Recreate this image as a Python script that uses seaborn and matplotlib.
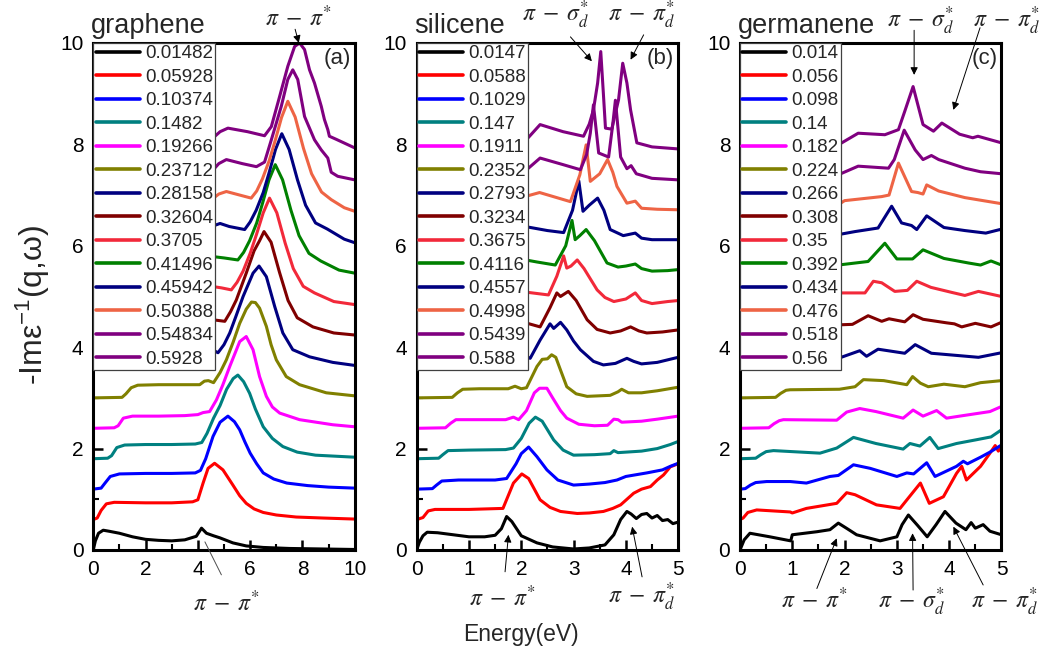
import matplotlib
matplotlib.use("Agg")
import numpy as np
import pandas as pd
import matplotlib.pyplot as plt
from matplotlib.ticker import MultipleLocator
import seaborn as sns

# ---------------- data ----------------
COLORS = ['#000000', '#FF0000', '#0000FF', '#008080', '#FF00FF', '#808000', '#000080',
          '#800000', '#F2293A', '#008000', '#000080', '#EE6445', '#800080', '#800080']
OFFSET_STEP = 0.6

GRAPHENE_Q = ['0.01482', '0.05928', '0.10374', '0.1482', '0.19266', '0.23712', '0.28158',
              '0.32604', '0.3705', '0.41496', '0.45942', '0.50388', '0.54834', '0.5928']
SILICENE_Q = ['0.0147', '0.0588', '0.1029', '0.147', '0.1911', '0.2352', '0.2793',
              '0.3234', '0.3675', '0.4116', '0.4557', '0.4998', '0.5439', '0.588']
GERMANENE_Q = ['0.014', '0.056', '0.098', '0.14', '0.182', '0.224', '0.266',
               '0.308', '0.35', '0.392', '0.434', '0.476', '0.518', '0.56']

# graphene curves: [energy, -Im eps^-1 relative to its offset]
gr0 = [[0, 0], [0.08, 0.18], [0.2, 0.33], [0.38, 0.39], [0.6, 0.37], [1.0, 0.33], [1.5, 0.26], [2.0, 0.21],
       [2.5, 0.19], [3.0, 0.18], [3.5, 0.2], [3.94, 0.27], [4.14, 0.43], [4.33, 0.33], [4.6, 0.28],
       [4.84, 0.24], [5.34, 0.14], [5.85, 0.08], [6.5, 0.05], [7.5, 0.03], [10, 0.01]]
gr1 = [[0, 0], [0.15, 0.03], [0.3, 0.18], [0.5, 0.31], [0.8, 0.34], [2, 0.33], [3, 0.33], [3.8, 0.35],
       [4.0, 0.39], [4.2, 0.72], [4.39, 1.01], [4.64, 1.11], [4.96, 0.98], [5.34, 0.68], [5.6, 0.47],
       [5.85, 0.32], [6.15, 0.21], [6.5, 0.14], [7, 0.09], [7.76, 0.05], [8.8, 0.03], [10, 0.01]]
gr2 = [[0, 0], [0.3, 0.02], [0.45, 0.12], [0.65, 0.25], [1, 0.30], [2, 0.31], [3, 0.31], [3.9, 0.32],
       [4.1, 0.37], [4.3, 0.6], [4.58, 1.04], [4.85, 1.32], [5.15, 1.44], [5.4, 1.33], [5.6, 1.17],
       [5.8, 0.93], [6.0, 0.71], [6.25, 0.5], [6.5, 0.32], [6.9, 0.2], [7.4, 0.12], [8.2, 0.07],
       [9, 0.04], [10, 0.02]]
gr3 = [[0, 0], [0.55, 0.01], [0.7, 0.06], [0.9, 0.22], [1.2, 0.27], [2, 0.28], [3, 0.28], [3.9, 0.29],
       [4.15, 0.32], [4.35, 0.5], [4.6, 0.8], [4.85, 1.05], [5.1, 1.37], [5.35, 1.58], [5.53, 1.65],
       [5.75, 1.52], [5.98, 1.29], [6.2, 0.98], [6.5, 0.63], [6.85, 0.4], [7.25, 0.24], [7.8, 0.13],
       [8.5, 0.07], [10, 0.03]]
gr4 = [[0, 0], [0.8, 0.01], [0.95, 0.05], [1.15, 0.2], [1.5, 0.24], [2.5, 0.24], [3.5, 0.25], [4.0, 0.27],
       [4.2, 0.31], [4.45, 0.33], [4.71, 0.56], [4.95, 0.85], [5.22, 1.22], [5.6, 1.71], [5.85, 1.81],
       [6.11, 1.55], [6.36, 1.02], [6.62, 0.63], [6.85, 0.42], [7.13, 0.3], [7.89, 0.17], [9.16, 0.07],
       [10, 0.03]]
gr5 = [[0, 0], [1.1, 0.01], [1.25, 0.08], [1.45, 0.2], [1.7, 0.25], [2.5, 0.26], [3.5, 0.26], [4.07, 0.26],
       [4.25, 0.33], [4.4, 0.34], [4.6, 0.3], [4.85, 0.5], [5.09, 0.75], [5.35, 1.1], [5.6, 1.47],
       [5.85, 1.75], [6.05, 1.89], [6.2, 1.88], [6.36, 1.77], [6.62, 1.41], [6.8, 1.05], [7.0, 0.75],
       [7.38, 0.42], [7.89, 0.26], [8.91, 0.10], [10, 0.04]]
gr6 = [[0, 0], [1.4, 0.01], [1.6, 0.1], [1.85, 0.25], [2.5, 0.3], [3.5, 0.33], [4.3, 0.36], [4.55, 0.35],
       [4.77, 0.29], [5.0, 0.45], [5.22, 0.68], [5.45, 1.0], [5.73, 1.40], [6.11, 1.86], [6.34, 2.0],
       [6.62, 1.79], [6.94, 1.2], [7.25, 0.68], [7.63, 0.35], [8.27, 0.21], [9.16, 0.10], [10, 0.04]]
gr7 = [[0, 0], [1.6, 0.01], [1.8, 0.1], [2.05, 0.25], [2.8, 0.3], [3.6, 0.33], [4.07, 0.37], [4.58, 0.34],
       [5.03, 0.31], [5.25, 0.5], [5.47, 0.73], [5.85, 1.26], [6.15, 1.7], [6.36, 1.9], [6.53, 2.08],
       [6.8, 1.87], [7.12, 1.28], [7.45, 0.72], [7.8, 0.38], [8.4, 0.2], [9.2, 0.08], [10, 0.04]]
gr8 = [[0, 0], [1.9, 0.01], [2.1, 0.1], [2.35, 0.27], [3, 0.33], [4, 0.38], [4.52, 0.40], [4.9, 0.37],
       [5.28, 0.33], [5.5, 0.48], [5.73, 0.7], [6.0, 1.05], [6.24, 1.42], [6.5, 1.85], [6.74, 2.14],
       [7.02, 1.85], [7.34, 1.25], [7.65, 0.75], [8.03, 0.4], [8.46, 0.27], [9.2, 0.10], [10, 0.04]]
gr9 = [[0, 0], [2.1, 0.01], [2.3, 0.1], [2.55, 0.27], [3.2, 0.33], [4.0, 0.37], [4.52, 0.39], [5.0, 0.36],
       [5.53, 0.32], [5.75, 0.47], [5.98, 0.7], [6.25, 1.05], [6.48, 1.45], [6.72, 1.9], [6.96, 2.2],
       [7.24, 1.9], [7.56, 1.3], [7.87, 0.8], [8.25, 0.45], [8.7, 0.3], [9.4, 0.12], [10, 0.06]]
gr10 = [[0, 0], [2.3, 0.01], [2.5, 0.1], [2.75, 0.27], [3.5, 0.33], [4.3, 0.37], [4.52, 0.38], [4.85, 0.44],
        [5.2, 0.38], [5.79, 0.32], [6.0, 0.47], [6.23, 0.7], [6.5, 1.05], [6.73, 1.45], [6.97, 1.9],
        [7.21, 2.21], [7.49, 1.9], [7.81, 1.3], [8.12, 0.8], [8.5, 0.45], [8.95, 0.33], [9.6, 0.13],
        [10, 0.06]]
gr11 = [[0, 0], [2.5, 0.01], [2.7, 0.1], [2.95, 0.25], [3.6, 0.28], [4.52, 0.31], [4.8, 0.42], [5.09, 0.47],
        [5.6, 0.40], [6.04, 0.34], [6.25, 0.48], [6.47, 0.72], [6.73, 1.08], [6.96, 1.48], [7.2, 1.93],
        [7.44, 2.25], [7.72, 1.94], [8.04, 1.32], [8.35, 0.82], [8.73, 0.46], [9.1, 0.31], [9.6, 0.15],
        [10, 0.08]]
gr12 = [[0, 0], [2.8, 0.01], [3.0, 0.1], [3.25, 0.22], [3.8, 0.24], [4.52, 0.26], [4.8, 0.42], [5.09, 0.50],
        [5.7, 0.42], [6.24, 0.36], [6.55, 0.45], [6.81, 0.89], [7.19, 1.55], [7.44, 2.08], [7.63, 2.27],
        [7.82, 2.08], [8.08, 1.35], [8.46, 0.89], [8.72, 0.69], [8.97, 0.53], [9.1, 0.25], [9.35, 0.17],
        [10, 0.10]]
gr13 = [[0, 0], [3.0, 0.01], [3.2, 0.1], [3.45, 0.24], [4.0, 0.27], [4.52, 0.3], [4.85, 0.45], [5.15, 0.52],
        [5.9, 0.45], [6.55, 0.37], [6.81, 0.55], [7.13, 1.15], [7.44, 1.74], [7.7, 2.13], [7.89, 2.2],
        [8.08, 2.07], [8.27, 1.67], [8.46, 1.41], [8.72, 0.95], [8.84, 0.69], [8.97, 0.49], [9.03, 0.36],
        [9.29, 0.30], [10, 0.13]]

# silicene curves
si0 = [[0, 0], [0.05, 0.15], [0.12, 0.28], [0.2, 0.35], [0.4, 0.34], [0.7, 0.30], [1.0, 0.26], [1.3, 0.26],
       [1.5, 0.29], [1.62, 0.42], [1.72, 0.66], [1.82, 0.56], [2.0, 0.28], [2.3, 0.14], [2.6, 0.06],
       [3.0, 0.02], [3.3, 0.04], [3.6, 0.1], [3.77, 0.3], [3.9, 0.6], [4.02, 0.76], [4.1, 0.71],
       [4.2, 0.62], [4.3, 0.70], [4.4, 0.72], [4.5, 0.63], [4.6, 0.68], [4.7, 0.58], [4.8, 0.60],
       [4.9, 0.52], [5.0, 0.55]]
si1 = [[0, 0], [0.12, 0.04], [0.22, 0.17], [0.35, 0.2], [1.0, 0.2], [1.65, 0.22], [1.85, 0.72],
       [2.01, 0.90], [2.14, 0.81], [2.36, 0.39], [2.55, 0.24], [2.75, 0.16], [3.07, 0.12], [3.3, 0.13],
       [3.57, 0.16], [3.75, 0.22], [3.9, 0.29], [4.15, 0.52], [4.3, 0.6], [4.47, 0.65], [4.6, 0.78],
       [4.72, 0.88], [4.85, 1.04], [5.0, 1.1]]
si2 = [[0, 0], [0.3, 0.01], [0.38, 0.08], [0.48, 0.16], [0.8, 0.18], [1.5, 0.18], [1.72, 0.21],
       [1.9, 0.5], [2.0, 0.7], [2.14, 0.83], [2.3, 0.64], [2.49, 0.38], [2.7, 0.18], [3.0, 0.08],
       [3.3, 0.1], [3.6, 0.13], [3.83, 0.18], [4.0, 0.25], [4.4, 0.32], [4.7, 0.38], [4.85, 0.45],
       [5.0, 0.51]]
si3 = [[0, 0], [0.42, 0.01], [0.5, 0.08], [0.6, 0.16], [1.0, 0.17], [1.7, 0.18], [1.85, 0.21],
       [2.0, 0.4], [2.15, 0.7], [2.27, 0.82], [2.4, 0.74], [2.62, 0.37], [2.8, 0.17], [3.0, 0.07],
       [3.4, 0.08], [3.7, 0.1], [3.77, 0.16], [3.85, 0.12], [4.3, 0.15], [4.6, 0.2], [4.85, 0.28],
       [5.0, 0.34]]
si4 = [[0, 0], [0.55, 0.01], [0.65, 0.1], [0.75, 0.17], [1.0, 0.17], [1.7, 0.17], [1.85, 0.22],
       [1.95, 0.17], [2.1, 0.35], [2.25, 0.7], [2.35, 0.79], [2.49, 0.79], [2.6, 0.6], [2.75, 0.35],
       [2.87, 0.2], [3.1, 0.08], [3.4, 0.05], [3.65, 0.06], [3.77, 0.18], [3.85, 0.17], [3.92, 0.12],
       [4.3, 0.14], [4.6, 0.18], [5.0, 0.24]]
si5 = [[0, 0], [0.68, 0.01], [0.78, 0.1], [0.88, 0.17], [1.2, 0.18], [1.75, 0.18], [1.88, 0.23],
       [2.0, 0.18], [2.1, 0.2], [2.3, 0.62], [2.4, 0.76], [2.5, 0.77], [2.58, 0.85], [2.66, 0.8],
       [2.75, 0.55], [2.87, 0.22], [3.05, 0.08], [3.26, 0.03], [3.7, 0.05], [3.85, 0.12], [3.92, 0.17],
       [4.05, 0.1], [4.3, 0.1], [4.6, 0.14], [5.0, 0.21]]
si6 = [[0, 0], [0.8, 0.01], [0.9, 0.1], [1.0, 0.17], [1.9, 0.2], [2.07, 0.23], [2.17, 0.18], [2.36, 0.54],
       [2.55, 0.86], [2.62, 0.77], [2.75, 0.89], [2.87, 0.74], [3.0, 0.52], [3.13, 0.35], [3.38, 0.12],
       [3.57, 0.05], [3.8, 0.08], [4.02, 0.18], [4.15, 0.12], [4.3, 0.07], [4.6, 0.1], [5.0, 0.2]]
si7 = [[0, 0], [0.9, 0.01], [1.0, 0.1], [1.1, 0.18], [1.9, 0.28], [1.98, 0.31], [2.36, 0.2], [2.55, 0.58],
       [2.68, 0.87], [2.75, 0.8], [2.9, 0.9], [3.05, 0.72], [3.26, 0.34], [3.45, 0.15], [3.7, 0.08],
       [3.9, 0.12], [4.09, 0.2], [4.25, 0.12], [4.4, 0.08], [4.7, 0.1], [5.0, 0.14]]
si8 = [[0, 0], [1.0, 0.01], [1.1, 0.1], [1.2, 0.2], [1.98, 0.30], [2.52, 0.23], [2.68, 0.6], [2.81, 1.0],
       [2.87, 0.76], [2.95, 0.8], [3.07, 0.92], [3.2, 0.75], [3.45, 0.33], [3.6, 0.18], [3.77, 0.1],
       [4.0, 0.15], [4.18, 0.27], [4.3, 0.12], [4.5, 0.06], [4.8, 0.1], [5.0, 0.12]]
si9 = [[0, 0], [1.2, 0.01], [1.3, 0.1], [1.4, 0.2], [1.98, 0.34], [2.3, 0.28], [2.65, 0.22], [2.85, 0.6],
       [2.97, 1.1], [3.03, 0.72], [3.12, 0.8], [3.24, 0.92], [3.4, 0.7], [3.64, 0.26], [3.85, 0.18],
       [4.0, 0.2], [4.18, 0.24], [4.3, 0.15], [4.5, 0.1], [4.8, 0.11], [5.0, 0.13]]
si10 = [[0, 0], [1.3, 0.01], [1.4, 0.1], [1.5, 0.2], [2.07, 0.38], [2.5, 0.3], [2.81, 0.26], [2.98, 0.7],
        [3.1, 1.28], [3.18, 0.68], [3.3, 0.8], [3.46, 0.94], [3.58, 0.7], [3.7, 0.32], [3.95, 0.2],
        [4.18, 0.25], [4.3, 0.15], [4.5, 0.12], [5.0, 0.12]]
si11 = [[0, 0], [1.4, 0.01], [1.5, 0.1], [1.6, 0.2], [2.07, 0.37], [2.35, 0.45], [2.94, 0.27], [3.12, 0.8],
        [3.24, 1.39], [3.32, 0.67], [3.5, 0.82], [3.65, 1.10], [3.75, 0.85], [3.83, 0.57], [4.02, 0.24],
        [4.18, 0.28], [4.3, 0.14], [4.6, 0.12], [5.0, 0.11]]
si12 = [[0, 0], [1.5, 0.01], [1.6, 0.1], [1.7, 0.2], [2.07, 0.27], [2.36, 0.53], [2.8, 0.4], [3.13, 0.3],
        [3.25, 0.6], [3.32, 1.02], [3.38, 1.58], [3.48, 0.63], [3.67, 0.55], [3.75, 1.2], [3.8, 1.67],
        [3.9, 0.55], [4.02, 0.32], [4.1, 0.38], [4.2, 0.22], [4.5, 0.13], [5.0, 0.10]]
si13 = [[0, 0], [1.6, 0.01], [1.7, 0.1], [1.8, 0.2], [2.07, 0.26], [2.36, 0.59], [2.8, 0.45], [3.19, 0.36],
        [3.3, 0.6], [3.38, 0.88], [3.46, 1.41], [3.52, 2.03], [3.57, 1.2], [3.61, 0.52], [3.73, 0.5],
        [3.86, 1.08], [3.94, 1.8], [4.02, 1.41], [4.09, 0.88], [4.21, 0.23], [4.5, 0.15], [5.0, 0.11]]

# germanene curves
ge0 = [[0, 0], [0.08, 0.2], [0.19, 0.33], [0.57, 0.26], [0.97, 0.18], [1.0, 0.3], [1.47, 0.36],
       [1.72, 0.40], [1.88, 0.53], [2.05, 0.42], [2.23, 0.30], [2.68, 0.18], [3.0, 0.26], [3.1, 0.5],
       [3.22, 0.69], [3.4, 0.48], [3.58, 0.26], [3.75, 0.5], [3.92, 0.76], [4.13, 0.53], [4.32, 0.40],
       [4.42, 0.54], [4.5, 0.43], [4.65, 0.5], [4.78, 0.37], [5.0, 0.30]]
ge1 = [[0, 0], [0.06, 0.03], [0.15, 0.14], [0.32, 0.19], [0.96, 0.15], [1.0, 0.13], [1.27, 0.22],
       [1.85, 0.32], [2.04, 0.53], [2.2, 0.49], [2.61, 0.29], [3.06, 0.22], [3.2, 0.4], [3.45, 0.72],
       [3.62, 0.32], [3.89, 0.45], [4.14, 0.91], [4.24, 1.05], [4.33, 0.78], [4.6, 1.05], [4.78, 1.31],
       [4.88, 1.46], [4.94, 1.35], [5.0, 1.42]]
ge2 = [[0, 0], [0.1, 0.01], [0.2, 0.08], [0.3, 0.13], [0.51, 0.15], [0.96, 0.15], [1.27, 0.12],
       [1.72, 0.25], [1.88, 0.27], [2.17, 0.48], [2.49, 0.41], [3.0, 0.25], [3.19, 0.32], [3.32, 0.3],
       [3.57, 0.52], [3.73, 0.25], [4.14, 0.45], [4.27, 0.55], [4.35, 0.5], [4.6, 0.63], [4.78, 0.73],
       [5.0, 0.87]]
ge3 = [[0, 0], [0.3, 0.01], [0.4, 0.08], [0.5, 0.14], [0.64, 0.16], [1.53, 0.11], [1.85, 0.21],
       [2.17, 0.42], [2.6, 0.30], [3.12, 0.19], [3.25, 0.3], [3.44, 0.25], [3.63, 0.42], [3.79, 0.2],
       [4.14, 0.3], [4.5, 0.37], [4.8, 0.43], [5.0, 0.57]]
ge4 = [[0, 0], [0.55, 0.01], [0.65, 0.09], [0.75, 0.15], [0.83, 0.17], [1.85, 0.16], [2.04, 0.32],
       [2.29, 0.39], [2.6, 0.33], [3.12, 0.2], [3.31, 0.36], [3.5, 0.24], [3.76, 0.35], [3.95, 0.2],
       [4.2, 0.24], [4.78, 0.33], [5.0, 0.43]]
ge5 = [[0, 0], [0.68, 0.01], [0.78, 0.09], [0.88, 0.15], [0.96, 0.16], [1.9, 0.17], [2.2, 0.22],
       [2.36, 0.36], [2.75, 0.34], [3.19, 0.26], [3.3, 0.42], [3.45, 0.29], [3.6, 0.22], [3.9, 0.27],
       [4.3, 0.22], [4.6, 0.3], [5.0, 0.34]]
ge6 = [[0, 0], [0.75, 0.01], [0.85, 0.1], [1.0, 0.16], [1.88, 0.18], [2.29, 0.33], [2.42, 0.22],
       [2.64, 0.36], [3.15, 0.28], [3.35, 0.45], [3.66, 0.28], [4.0, 0.25], [4.56, 0.2], [5.0, 0.29]]
ge7 = [[0, 0], [0.85, 0.01], [0.95, 0.1], [1.1, 0.18], [1.88, 0.24], [2.15, 0.25], [2.45, 0.42],
       [2.71, 0.31], [2.85, 0.36], [3.15, 0.3], [3.31, 0.44], [3.5, 0.35], [3.95, 0.28], [4.1, 0.26],
       [4.24, 0.2], [4.5, 0.27], [4.8, 0.2], [5.0, 0.29]]
ge8 = [[0, 0], [0.95, 0.01], [1.05, 0.1], [1.2, 0.2], [1.88, 0.27], [2.39, 0.27], [2.55, 0.5],
       [2.71, 0.47], [2.96, 0.3], [3.2, 0.32], [3.38, 0.5], [3.65, 0.38], [4.05, 0.28], [4.3, 0.22],
       [4.56, 0.3], [5.0, 0.2]]
ge9 = [[0, 0], [1.05, 0.01], [1.15, 0.1], [1.3, 0.2], [1.88, 0.22], [2.45, 0.29], [2.77, 0.65],
       [3.0, 0.34], [3.3, 0.34], [3.5, 0.52], [3.9, 0.35], [4.37, 0.26], [4.6, 0.22], [4.8, 0.3],
       [5.0, 0.22]]
ge10 = [[0, 0], [1.15, 0.01], [1.25, 0.1], [1.4, 0.2], [1.88, 0.22], [2.2, 0.28], [2.64, 0.35],
        [2.9, 0.78], [3.09, 0.45], [3.28, 0.4], [3.38, 0.32], [3.57, 0.59], [3.9, 0.36], [4.3, 0.3],
        [4.7, 0.25], [4.97, 0.32], [5.0, 0.3]]
ge11 = [[0, 0], [1.2, 0.01], [1.3, 0.1], [1.45, 0.18], [1.88, 0.21], [2.0, 0.29], [2.71, 0.37],
        [2.85, 0.4], [3.03, 1.03], [3.28, 0.47], [3.4, 0.45], [3.5, 0.42], [3.57, 0.6], [3.8, 0.48],
        [4.3, 0.35], [5.0, 0.23]]
ge12 = [[0, 0], [1.3, 0.01], [1.4, 0.1], [1.55, 0.18], [1.88, 0.2], [2.26, 0.37], [2.84, 0.33],
        [2.95, 0.5], [3.14, 1.08], [3.35, 0.69], [3.5, 0.5], [3.66, 0.58], [3.8, 0.5], [4.3, 0.33],
        [4.6, 0.26], [5.0, 0.22]]
ge13 = [[0, 0], [1.4, 0.01], [1.5, 0.1], [1.65, 0.18], [1.88, 0.19], [2.26, 0.42], [2.77, 0.39],
        [3.03, 0.49], [3.15, 0.85], [3.31, 1.34], [3.5, 0.59], [3.7, 0.46], [3.86, 0.62], [4.2, 0.4],
        [4.45, 0.33], [4.55, 0.36], [5.0, 0.23]]

GRAPHENE_CURVES = [gr0, gr1, gr2, gr3, gr4, gr5, gr6, gr7, gr8, gr9, gr10, gr11, gr12, gr13]
SILICENE_CURVES = [si0, si1, si2, si3, si4, si5, si6, si7, si8, si9, si10, si11, si12, si13]
GERMANENE_CURVES = [ge0, ge1, ge2, ge3, ge4, ge5, ge6, ge7, ge8, ge9, ge10, ge11, ge12, ge13]

PANEL_NAMES = ['graphene', 'silicene', 'germanene']
PANEL_LETTERS = ['(a)', '(b)', '(c)']
X_MAX = [10, 5, 5]

PI_PI = r'$\pi\;-\;\pi^{*}$'
PI_SIG_D = r'$\pi\;-\;\sigma^{*}_{d}$'
PI_PI_D = r'$\pi\;-\;\pi^{*}_{d}$'

# ---------------- style ----------------
sns.set_theme(style='white')
plt.rcParams['font.family'] = ['Liberation Sans', 'DejaVu Sans']
plt.rcParams['mathtext.fontset'] = 'custom'
plt.rcParams['mathtext.rm'] = 'Liberation Sans'
plt.rcParams['mathtext.it'] = 'Liberation Sans:italic'
plt.rcParams['mathtext.bf'] = 'Liberation Sans:bold'

fig = plt.figure(figsize=(10.48, 6.66), dpi=100)
lefts = [0.0890, 0.3976, 0.7061]
axes = [fig.add_axes([l, 0.1742, 0.2495, 0.7613]) for l in lefts]

panels = [(GRAPHENE_CURVES, GRAPHENE_Q), (SILICENE_CURVES, SILICENE_Q), (GERMANENE_CURVES, GERMANENE_Q)]

for k, (ax, (curves, qs)) in enumerate(zip(axes, panels)):
    for i, (curve, q) in enumerate(zip(curves, qs)):
        arr = np.asarray(curve, dtype=float)
        df = pd.DataFrame({'E': arr[:, 0], 'L': arr[:, 1] + OFFSET_STEP * i})
        sns.lineplot(data=df, x='E', y='L', ax=ax, color=COLORS[i], lw=2.2,
                     label=q, sort=False, estimator=None)
    for ln in ax.get_lines():
        ln.set_solid_joinstyle('round')
    ax.set_xlim(0, X_MAX[k])
    ax.set_ylim(0, 10)
    ax.set_xlabel('')
    ax.set_ylabel('')
    if k == 0:
        ax.set_xticks(range(0, 11, 2))
        ax.xaxis.set_minor_locator(MultipleLocator(1))
    else:
        ax.set_xticks(range(0, 6))
        ax.xaxis.set_minor_locator(MultipleLocator(0.5))
    ax.set_yticks(range(0, 11, 2))
    ax.yaxis.set_minor_locator(MultipleLocator(1))
    ax.tick_params(which='major', direction='in', length=7, width=1.8, labelsize=15,
                   pad=7, bottom=True, left=True, top=False, right=False, colors='black')
    ax.tick_params(which='minor', direction='in', length=4, width=1.5,
                   bottom=True, left=True, top=False, right=False, colors='black')
    for s in ax.spines.values():
        s.set_linewidth(2.2)
        s.set_color('black')
    ax.grid(False)
    leg = ax.legend(loc='upper left', bbox_to_anchor=(0, 1), borderaxespad=0, borderpad=0.12,
                    handlelength=2.35, handletextpad=0.28, labelspacing=0.34, fontsize=13.5,
                    frameon=True, fancybox=False, framealpha=1, facecolor='white',
                    edgecolor='0.25')
    leg.get_frame().set_linewidth(0.9)
    for ln in leg.get_lines():
        ln.set_linewidth(2.6)
    ax.text(-0.01, 1.02, PANEL_NAMES[k], transform=ax.transAxes, fontsize=19.5,
            ha='left', va='baseline')
    ax.text(0.985, 0.958, PANEL_LETTERS[k], transform=ax.transAxes, fontsize=16,
            ha='right', va='baseline')

ARW = dict(arrowstyle='-|>', color='black', lw=0.7, mutation_scale=11, shrinkA=0, shrinkB=0)
LINE = dict(arrowstyle='-', color='0.3', lw=0.7, shrinkA=0, shrinkB=0)


def label(ax, x, y, s):
    ax.text(x, y, s, fontsize=17, ha='center', va='baseline', math_fontfamily='stix',
            clip_on=False)


def arrow(ax, tip, tail, props=ARW):
    ax.annotate('', xy=tip, xytext=tail, arrowprops=props, annotation_clip=False)


a, b, c = axes
# (a) graphene
label(a, 7.85, 10.33, PI_PI)
arrow(a, (7.86, 10.0), (7.72, 10.27))
label(a, 5.1, -1.2, PI_PI)
arrow(a, (4.27, 0.16), (4.9, -0.49), LINE)
# (b) silicene
label(b, 2.65, 10.42, PI_SIG_D)
arrow(b, (3.35, 9.64), (2.94, 10.12))
label(b, 4.3, 10.42, PI_PI_D)
arrow(b, (4.09, 9.67), (4.34, 10.16))
label(b, 1.65, -1.1, PI_PI)
arrow(b, (1.755, 0.30), (1.69, -0.43))
label(b, 4.3, -1.06, PI_PI_D)
arrow(b, (4.12, 0.46), (4.31, -0.53))
# (c) germanene
label(c, 3.45, 10.3, PI_SIG_D)
arrow(c, (3.33, 9.37), (3.33, 10.25))
label(c, 5.1, 10.3, PI_PI_D)
arrow(c, (4.08, 8.68), (4.59, 10.3))
label(c, 1.43, -1.15, PI_PI)
arrow(c, (1.85, 0.23), (1.47, -0.76))
label(c, 3.27, -1.15, PI_SIG_D)
arrow(c, (3.30, 0.33), (3.31, -0.79))
label(c, 5.05, -1.15, PI_PI_D)
arrow(c, (4.08, 0.46), (4.65, -0.69))

fig.text(0.031, 0.542, '-Im\u03b5$^{-1}$(q,\u03c9)', rotation=90, fontsize=23,
         ha='center', va='center')
fig.text(0.497, 0.047, 'Energy(eV)', fontsize=16.5, ha='center', va='center')

fig.savefig('out.png', dpi=100)
